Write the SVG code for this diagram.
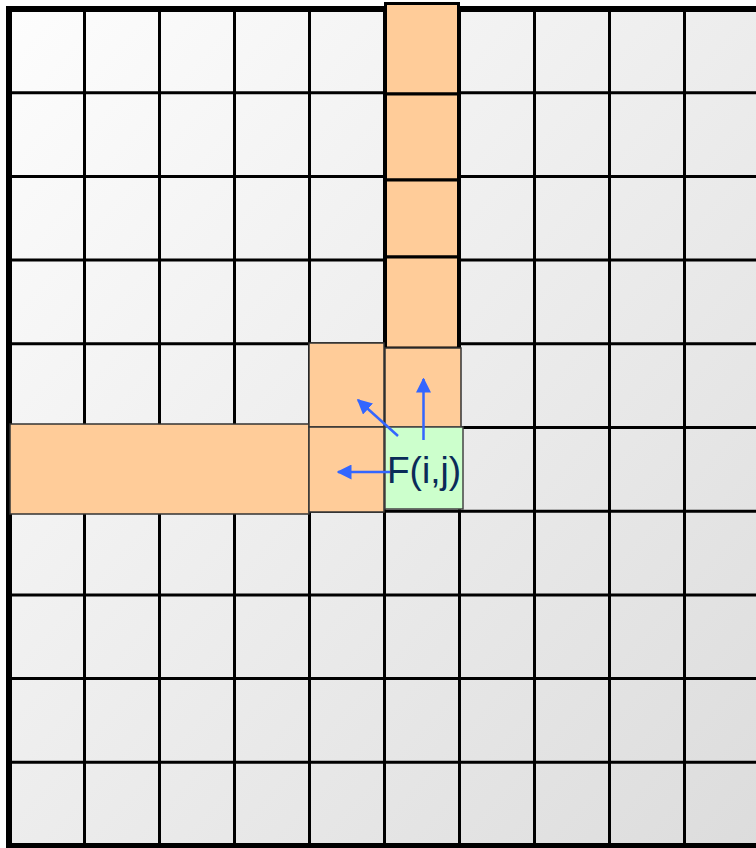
<svg xmlns="http://www.w3.org/2000/svg" width="756" height="848" viewBox="0 0 756 848">
<defs>
<linearGradient id="bg" x1="0" y1="0" x2="1" y2="1">
<stop offset="0" stop-color="#fdfdfd"/>
<stop offset="1" stop-color="#dcdcdc"/>
</linearGradient>
<marker id="ah" viewBox="0 0 10 10" refX="9" refY="5" markerWidth="6" markerHeight="6" orient="auto" markerUnits="strokeWidth">
<path d="M0,0 L10,5 L0,10 z" fill="#3366ff"/>
</marker>
<style>
.grid line{stroke:#000;stroke-width:3}
.or{fill:#ffcc99;stroke:#000;stroke-width:3}
.ot{fill:#ffcc99;stroke:#333;stroke-width:1.5}
.arr{stroke:#3366ff;stroke-width:2.5;fill:none;marker-end:url(#ah)}
</style>
</defs>
<rect x="0" y="0" width="756" height="848" fill="#ffffff"/>
<rect x="9" y="9" width="760" height="837" fill="url(#bg)"/>
<g id="grid" class="grid">
<line x1="84.5" y1="9" x2="84.5" y2="846"/>
<line x1="159.5" y1="9" x2="159.5" y2="846"/>
<line x1="234.5" y1="9" x2="234.5" y2="846"/>
<line x1="309.5" y1="9" x2="309.5" y2="846"/>
<line x1="384.5" y1="9" x2="384.5" y2="846"/>
<line x1="459.5" y1="9" x2="459.5" y2="846"/>
<line x1="534.5" y1="9" x2="534.5" y2="846"/>
<line x1="609.5" y1="9" x2="609.5" y2="846"/>
<line x1="684.5" y1="9" x2="684.5" y2="846"/>
<line x1="9" y1="92.7" x2="760" y2="92.7"/>
<line x1="9" y1="176.4" x2="760" y2="176.4"/>
<line x1="9" y1="260.1" x2="760" y2="260.1"/>
<line x1="9" y1="343.8" x2="760" y2="343.8"/>
<line x1="9" y1="427.5" x2="760" y2="427.5"/>
<line x1="9" y1="511.2" x2="760" y2="511.2"/>
<line x1="9" y1="594.9" x2="760" y2="594.9"/>
<line x1="9" y1="678.6" x2="760" y2="678.6"/>
<line x1="9" y1="762.3" x2="760" y2="762.3"/>
</g>
<rect id="frame" x="9" y="9" width="760" height="837" fill="none" stroke="#000" stroke-width="6"/>
<g id="col-top">
<rect class="or" x="385.5" y="3.5" width="73" height="90.5"/>
<rect class="or" x="385.5" y="94" width="73" height="86"/>
<rect class="or" x="385.5" y="180" width="73" height="77"/>
<rect class="or" x="385.5" y="257" width="73" height="91"/>
</g>
<g id="row-left">
<rect class="ot" x="10" y="424" width="299" height="90"/>
</g>
<g id="cell-up"><rect class="ot" x="385" y="348" width="76" height="79"/></g>
<g id="cell-diag"><rect class="ot" x="309" y="343" width="75" height="84"/></g>
<g id="cell-left"><rect class="ot" x="309" y="427" width="75" height="85"/></g>
<g id="cell-f">
<rect x="385" y="427" width="78" height="82" fill="#ccffcc" stroke="#444" stroke-width="1.5"/>
<text x="424" y="483" font-family="Liberation Sans, Arial, sans-serif" font-size="37" fill="#0a2b58" text-anchor="middle">F(i,j)</text>
</g>
<g id="connectors">
<line class="arr" x1="423.5" y1="440" x2="423.5" y2="379"/>
<line class="arr" x1="398" y1="436" x2="358" y2="400"/>
<line class="arr" x1="390" y1="472" x2="338" y2="472"/>
</g>
</svg>
